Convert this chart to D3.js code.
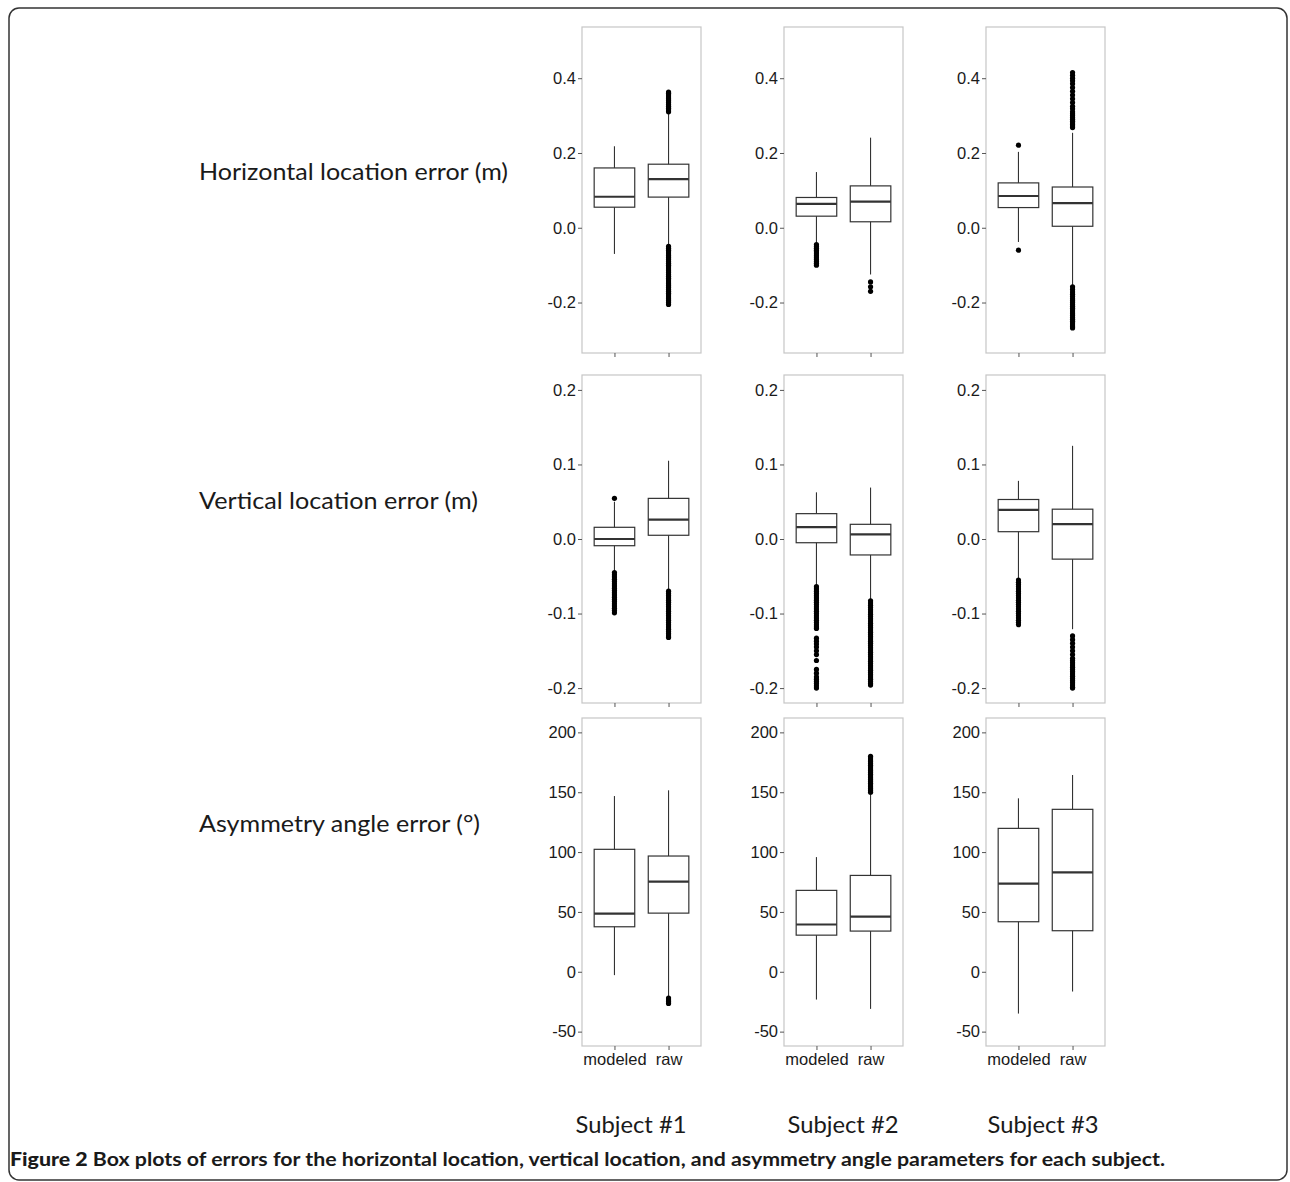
<!DOCTYPE html>
<html>
<head>
<meta charset="utf-8">
<script src="https://cdn.jsdelivr.net/npm/d3@7"></script>
<style>
body { margin: 0; background: #fff; }
</style>
</head>
<body>
<script>
var width = 1290,
    height = 1182;

var subjects = ["Subject #1", "Subject #2", "Subject #3"];
var methods = ["modeled", "raw"];
var rowLabels = ["Horizontal location error (m)", "Vertical location error (m)", "Asymmetry angle error (\u00b0)"];
var rowTicks = [[-0.2, 0, 0.2, 0.4], [-0.2, -0.1, 0, 0.1, 0.2], [-50, 0, 50, 100, 150, 200]];
var rowDomains = [[-0.335, 0.537], [-0.22, 0.22], [-62, 212]];

// [lower whisker, q1, median, q3, upper whisker] for subject x method
var horizStats = [
    [[-0.070, 0.055, 0.083, 0.160, 0.218], [-0.049, 0.082, 0.130, 0.170, 0.308]],
    [[-0.042, 0.031, 0.064, 0.081, 0.149], [-0.125, 0.016, 0.070, 0.112, 0.241]],
    [[-0.038, 0.054, 0.085, 0.120, 0.203], [-0.154, 0.004, 0.066, 0.109, 0.254]]
];
var vertStats = [
    [[-0.044, -0.009, 0.000, 0.0157, 0.050], [-0.069, 0.005, 0.026, 0.0545, 0.105]],
    [[-0.063, -0.005, 0.016, 0.034, 0.0626], [-0.082, -0.0214, 0.0063, 0.0197, 0.069]],
    [[-0.054, 0.0098, 0.039, 0.053, 0.078], [-0.121, -0.027, 0.020, 0.040, 0.125]]
];
var angleStats = [
    [[-2.8, 37.6, 48.5, 102.3, 146.8], [-21.7, 49.0, 75.3, 96.7, 151.6]],
    [[-23.2, 30.6, 39.5, 68.0, 95.8], [-31.0, 34.0, 46.0, 80.5, 149.7]],
    [[-34.9, 41.8, 73.6, 119.8, 144.9], [-16.5, 34.3, 83.0, 135.7, 164.4]]
];

// outliers, subject x method
var horizOut = [
    [[], [0.310, 0.315, 0.320, 0.325, 0.330, 0.335, 0.340, 0.345, 0.350, 0.355, 0.360, 0.363,
          -0.050, -0.055, -0.060, -0.065, -0.070, -0.075, -0.080, -0.085, -0.090, -0.095, -0.100,
          -0.105, -0.110, -0.115, -0.120, -0.125, -0.130, -0.135, -0.140, -0.145, -0.150, -0.155,
          -0.160, -0.165, -0.170, -0.175, -0.180, -0.185, -0.190, -0.195, -0.200, -0.205]],
    [[-0.045, -0.050, -0.055, -0.060, -0.065, -0.070, -0.075, -0.080, -0.085, -0.090, -0.095, -0.100],
     [-0.145, -0.158, -0.170]],
    [[0.221, -0.060],
     [0.268, 0.272, 0.276, 0.280, 0.285, 0.290, 0.295, 0.300, 0.305, 0.310, 0.318, 0.325, 0.335,
      0.345, 0.355, 0.365, 0.375, 0.385, 0.393, 0.400, 0.408, 0.415,
      -0.158, -0.165, -0.172, -0.178, -0.184, -0.190, -0.195, -0.200, -0.205, -0.210, -0.215,
      -0.220, -0.225, -0.230, -0.235, -0.240, -0.245, -0.250, -0.255, -0.260, -0.265, -0.268]]
];
var vertOut = [
    [[0.0545, -0.045, -0.048, -0.051, -0.054, -0.057, -0.060, -0.063, -0.066, -0.069, -0.072, -0.075,
      -0.078, -0.081, -0.084, -0.087, -0.090, -0.093, -0.096, -0.099],
     [-0.070, -0.073, -0.076, -0.079, -0.082, -0.085, -0.088, -0.091, -0.094, -0.097, -0.100, -0.103,
      -0.106, -0.109, -0.112, -0.115, -0.118, -0.121, -0.124, -0.127, -0.130, -0.132]],
    [[-0.064, -0.067, -0.070, -0.073, -0.076, -0.079, -0.082, -0.085, -0.088, -0.091, -0.094, -0.097,
      -0.100, -0.103, -0.106, -0.109, -0.112, -0.115, -0.118, -0.120,
      -0.133, -0.137, -0.141, -0.145, -0.150, -0.155, -0.163, -0.175, -0.180, -0.185, -0.188,
      -0.191, -0.194, -0.197, -0.200],
     [-0.083, -0.086, -0.089, -0.092, -0.095, -0.098, -0.101, -0.104, -0.107, -0.110, -0.113, -0.116,
      -0.119, -0.122, -0.125, -0.128, -0.131, -0.134, -0.137, -0.140, -0.143, -0.146, -0.149, -0.152,
      -0.155, -0.158, -0.161, -0.164, -0.167, -0.170, -0.173, -0.176, -0.179, -0.182, -0.185,
      -0.188, -0.191, -0.194, -0.196]],
    [[-0.055, -0.058, -0.061, -0.064, -0.067, -0.070, -0.073, -0.076, -0.079, -0.082, -0.085, -0.088,
      -0.091, -0.094, -0.097, -0.100, -0.103, -0.106, -0.109, -0.112, -0.115],
     [-0.130, -0.135, -0.140, -0.145, -0.150, -0.155, -0.160, -0.163, -0.166, -0.169, -0.172, -0.175,
      -0.178, -0.181, -0.184, -0.187, -0.190, -0.193, -0.196, -0.199, -0.200]]
];
var angleOut = [
    [[], [-22.0, -23.5, -25.0, -26.5]],
    [[], [150.0, 151.5, 153.0, 154.5, 156.0, 157.5, 159.0, 160.5, 162.0, 163.5, 165.0, 166.5,
          168.0, 169.5, 171.0, 172.5, 174.0, 175.5, 177.0, 178.5, 180.0]],
    [[], []]
];

var rowStats = [horizStats, vertStats, angleStats];
var rowOut = [horizOut, vertOut, angleOut];

// layout
var panelLeft = [582, 784, 986],
    panelW = 119,
    rowTop = [27, 375, 718],
    rowBottom = [353, 703, 1046],
    rowLabelY = [180, 509, 832],
    rowLabelW = [309, 279, 281],
    subjectX = [631, 843, 1043];

var svg = d3.select("body").append("svg")
    .attr("width", width)
    .attr("height", height)
    .style("font-family", "'Liberation Sans', Arial, sans-serif");

// figure frame
svg.append("rect")
    .attr("x", 9).attr("y", 8)
    .attr("width", 1278).attr("height", 1172)
    .attr("rx", 10)
    .attr("fill", "none")
    .attr("stroke", "#333")
    .attr("stroke-width", 1.5);

rowLabels.forEach(function (lab, r) {
    svg.append("text")
        .attr("x", 199)
        .attr("y", rowLabelY[r])
        .attr("font-family", "Lato, 'Open Sans', sans-serif")
        .attr("font-size", 23)
        .attr("textLength", rowLabelW[r])
        .attr("lengthAdjust", "spacingAndGlyphs")
        .attr("fill", "#1a1a1a")
        .text(lab);
});

rowStats.forEach(function (stats, r) {
    var y = d3.scaleLinear().domain(rowDomains[r]).range([rowBottom[r], rowTop[r]]);
    var fmt = r < 2 ? function (d) { return d.toFixed(1) } : function (d) { return d };

    subjects.forEach(function (s, c) {
        var x = d3.scalePoint().domain(methods)
            .range([panelLeft[c], panelLeft[c] + panelW]).padding(0.6);
        var bw = x.step() * 0.75;
        var g = svg.append("g");

        g.append("rect")
            .attr("x", panelLeft[c]).attr("y", rowTop[r])
            .attr("width", panelW).attr("height", rowBottom[r] - rowTop[r])
            .attr("fill", "#fff")
            .attr("stroke", "#c6c6c6")
            .attr("stroke-width", 1.2);

        var ya = g.append("g")
            .attr("transform", "translate(" + panelLeft[c] + ",0)")
            .call(d3.axisLeft(y).tickValues(rowTicks[r]).tickSize(4).tickPadding(2).tickFormat(fmt));
        var xa = g.append("g")
            .attr("transform", "translate(0," + rowBottom[r] + ")")
            .call(d3.axisBottom(x).tickSize(4).tickPadding(3)
                .tickFormat(r == 2 ? null : function () { return "" }));
        [ya, xa].forEach(function (a) {
            a.select(".domain").remove();
            a.selectAll("line").attr("stroke", "#555");
            a.selectAll("text").attr("fill", "#1a1a1a").attr("font-size", 16.5)
                .attr("font-family", "'Liberation Sans', Arial, sans-serif");
        });

        methods.forEach(function (m, k) {
            var st = stats[c][k], cx = x(m);
            g.append("line")
                .attr("x1", cx).attr("x2", cx)
                .attr("y1", y(st[0])).attr("y2", y(st[4]))
                .attr("stroke", "#333").attr("stroke-width", 1.1);
            g.append("rect")
                .attr("x", cx - bw / 2).attr("width", bw)
                .attr("y", y(st[3])).attr("height", y(st[1]) - y(st[3]))
                .attr("fill", "#fff")
                .attr("stroke", "#333").attr("stroke-width", 1.2);
            g.append("line")
                .attr("x1", cx - bw / 2).attr("x2", cx + bw / 2)
                .attr("y1", y(st[2])).attr("y2", y(st[2]))
                .attr("stroke", "#333").attr("stroke-width", 2.2);
            g.selectAll(null)
                .data(rowOut[r][c][k])
                .enter().append("circle")
                .attr("cx", cx)
                .attr("cy", function (d) { return y(d) })
                .attr("r", 2.6)
                .attr("fill", "#000");
        });
    });
});

subjects.forEach(function (s, c) {
    svg.append("text")
        .attr("x", subjectX[c])
        .attr("y", 1133)
        .attr("text-anchor", "middle")
        .attr("font-family", "Lato, 'Open Sans', sans-serif")
        .attr("font-size", 23)
        .attr("textLength", 111)
        .attr("lengthAdjust", "spacingAndGlyphs")
        .attr("fill", "#1a1a1a")
        .text(s);
});

var cap = svg.append("text")
    .attr("x", 10)
    .attr("y", 1166)
    .attr("font-family", "Lato, 'Open Sans', sans-serif")
    .attr("font-size", 19.5)
    .attr("textLength", 1155)
    .attr("lengthAdjust", "spacingAndGlyphs")
    .attr("fill", "#1a1a1a");
cap.append("tspan").attr("font-weight", 900).text("Figure 2");
cap.append("tspan").attr("font-weight", 700)
    .text(" Box plots of errors for the horizontal location, vertical location, and asymmetry angle parameters for each subject.");
</script>
</body>
</html>
